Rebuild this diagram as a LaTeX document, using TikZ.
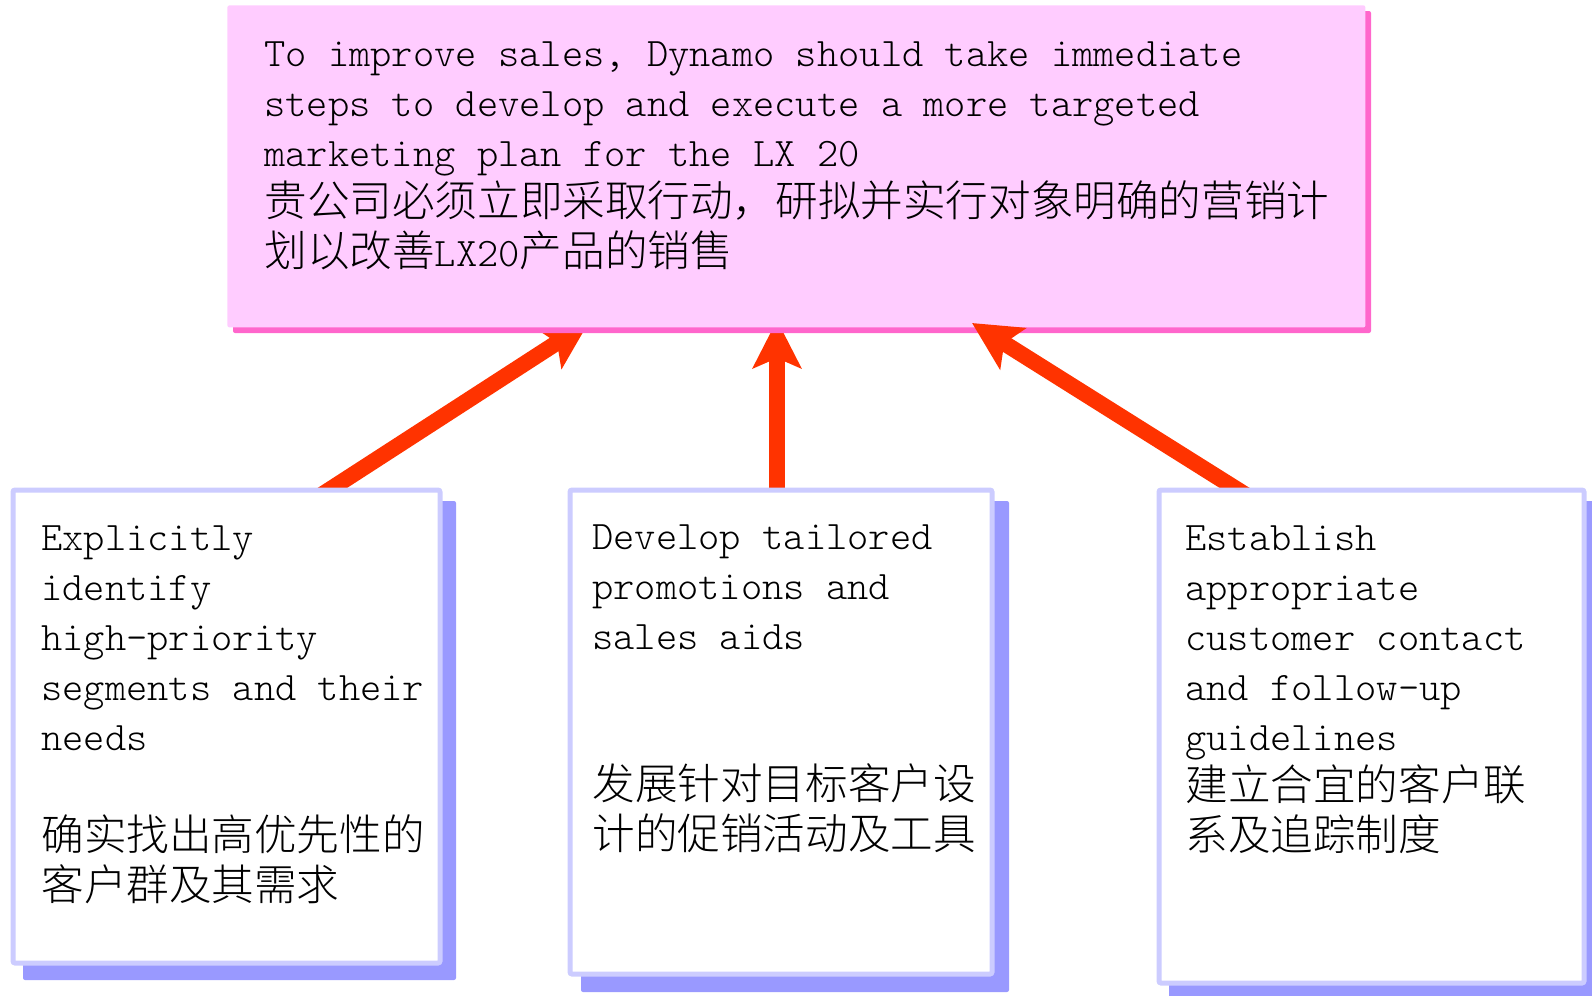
\documentclass[tikz,border=0pt]{standalone}
\usepackage{fontspec}
\setmonofont{Latin Modern Mono Light}
\newfontfamily\cjk{Noto Sans CJK SC Light}
\usetikzlibrary{arrows.meta}
\definecolor{pinkfill}{HTML}{FFCCFF}
\definecolor{pinkshade}{HTML}{FF66CC}
\definecolor{arrred}{HTML}{FF3300}
\definecolor{lavline}{HTML}{CCCCFF}
\definecolor{bshade}{HTML}{9999FF}
\newcommand\strt{\vrule width0pt height18pt depth6pt\relax}
\newcommand\myen{\ttfamily\fontsize{20.25pt}{24pt}\selectfont}
\newcommand\myzh{\cjk\fontsize{21.3pt}{24pt}\selectfont}
\tikzset{
  topbox/.style={fill=pinkfill, draw=none, rounded corners=1pt, inner sep=0pt, anchor=north west},
  botbox/.style={fill=white, draw=lavline, line width=2.5pt, rounded corners=1pt, inner sep=0pt, anchor=north west},
  pshadow/.style={fill=pinkshade, rounded corners=1pt},
  bshadow/.style={fill=bshade, rounded corners=1pt},
  txt/.style={anchor=north west, inner sep=0pt, align=left, text=black},
  arr/.style={draw=arrred, line width=8pt, -{Stealth[length=24pt,width=24pt,inset=5pt]}}
}
\begin{document}
\begin{tikzpicture}[x=0.5pt,y=-0.5pt]
\clip (0,0) rectangle (1592,996);
\useasboundingbox (0,0) rectangle (1592,996);
% arrow anchors
\coordinate (s1) at (313.7,500);
\coordinate (t1) at (589,322);
\coordinate (s2) at (777,500);
\coordinate (t2) at (777,320);
\coordinate (s3) at (1253.9,500);
\coordinate (t3) at (972,323);
% left and middle arrows (under top box)
\draw[arr] (s1) -- (t1);
\draw[arr] (s2) -- (t2);
% top box
\fill[pshadow] (233,11) rectangle (1371,333);
\node[topbox, minimum width=569pt, minimum height=161pt] (top) at (227,5) {};
% right arrow (over top box)
\draw[arr] (s3) -- (t3);
% bottom boxes
\fill[bshadow] (23,501) rectangle (456,980);
\node[botbox, minimum width=213.5pt, minimum height=236.5pt] (left) at (10.5,487.5) {};
\fill[bshadow] (581,501) rectangle (1009,992);
\node[botbox, minimum width=211pt, minimum height=242pt] (mid) at (567.5,487.5) {};
\fill[bshadow] (1169,501) rectangle (1601,1000);
\node[botbox, minimum width=212.5pt, minimum height=246.5pt] (right) at (1156.5,487.5) {};
% texts
\node[txt] (toptxt) at (264,30) {\myen\strt To improve sales, Dynamo should take immediate\\
\myen\strt steps to develop and execute a more targeted\\
\myen\strt marketing plan for the LX 20\\
\myzh\strt 贵公司必须立即采取行动，研拟并实行对象明确的营销计\\
\myzh\strt 划以改善{\myen LX20}产品的销售};
\node[txt] (lefttxt) at (41,514) {\myen\strt Explicitly\\
\myen\strt identify\\
\myen\strt high-priority\\
\myen\strt segments and their\\
\myen\strt needs\\
\myen\strt \\
\myzh\strt 确实找出高优先性的\\
\myzh\strt 客户群及其需求};
\node[txt] (midtxt) at (592,513) {\myen\strt Develop tailored\\
\myen\strt promotions and\\
\myen\strt sales aids\\
\myen\strt \\
\myen\strt \\
\myzh\strt 发展针对目标客户设\\
\myzh\strt 计的促销活动及工具};
\node[txt] (righttxt) at (1185,514) {\myen\strt Establish\\
\myen\strt appropriate\\
\myen\strt customer contact\\
\myen\strt and follow-up\\
\myen\strt guidelines\\
\myzh\strt 建立合宜的客户联\\
\myzh\strt 系及追踪制度};
\end{tikzpicture}
\end{document}
